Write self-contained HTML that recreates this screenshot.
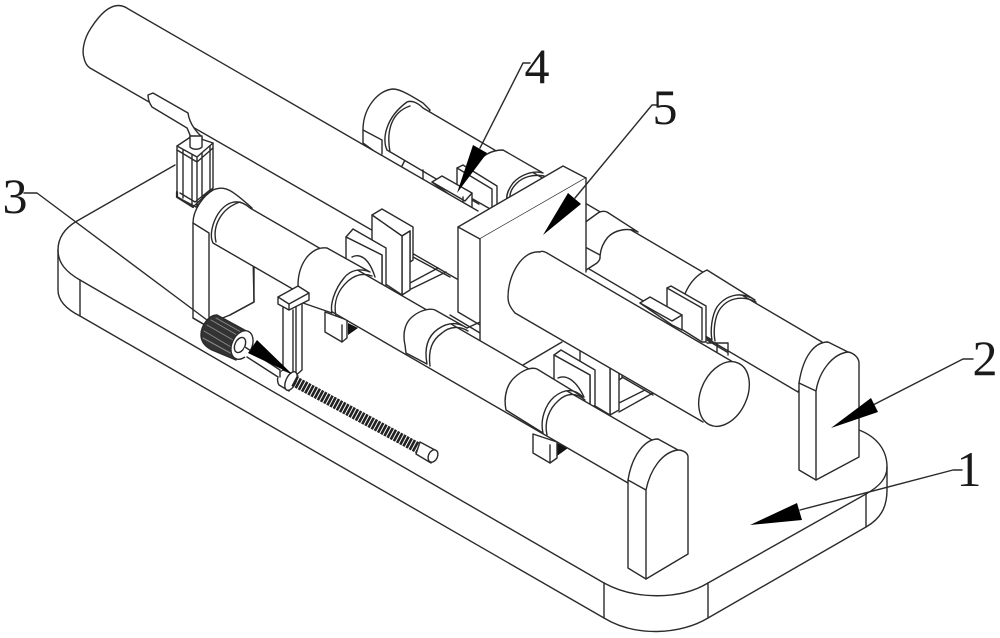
<!DOCTYPE html>
<html>
<head>
<meta charset="utf-8">
<style>
html,body{margin:0;padding:0;background:#fff;width:1000px;height:638px;overflow:hidden}
svg{display:block}
path,polygon,ellipse,polyline{stroke-linejoin:round;stroke-linecap:round}
.f{fill:#fff}
text{font-family:"Liberation Serif",serif;font-size:50px;fill:#1a1a1a;text-anchor:middle}
</style>
</head>
<body>
<svg width="1000" height="638" viewBox="0 0 1000 638" xmlns="http://www.w3.org/2000/svg" fill="none" stroke="#2a2a2a" stroke-width="1.4">
<!-- base -->
<path d="M175,165 L77,221 C65,228 58,238 58,250 C58,263 66,272 80,280 L604,583 C635,600 680,600 708,583 L866,494 C880,486 887,478 887,467 C887,450 877,437 859,430"/>
<path d="M58,250 L58,290 C58,300 66,309 80,316 L604,618 C635,637 680,635 708,618 L866,527 C880,519 887,508 887,490 L887,467"/>
<path d="M80,280 V316 M604,583 V618 M708,583 V618 M866,494 V527"/>

<!-- rear rail -->
<path class="f" d="M363,143 V130 C363,108 378,90 393,89 C400,89 410,95 423,103 L430,110 L400,170Z"/>
<path d="M363,130 L382,140 V154"/>
<path class="f" d="M423,108 L822,342 L798,392 L387,150 C382,140 385,118 407,102 C412,100 418,103 423,108Z"/>
<path d="M390,152 C386,130 392,112 410,106"/>
<!-- rear mid collar -->
<path class="f" stroke="none" d="M480,215 L477,165 C480,157 490,150 503,150 L543,173 C533,170 520,175 513,183 C508,190 506,195 507,215 Z"/>
<path d="M477,165 C480,157 490,150 503,150 L543,173 C533,170 520,175 513,183 C508,190 506,195 507,200"/>
<path d="M510,200 C509,192 513,187 517,183 C523,177 533,174 544,176"/>
<!-- rear right of plate collar -->
<path class="f" stroke="none" d="M580,270 L580,226 L598,213 C601,211 604,211 607,212 L638,232 C628,227 615,230 608,237 C603,243 600,250 600,258 L593,268 Z"/>
<path d="M580,226 L598,213 C601,211 604,211 607,212 L638,232 C628,227 615,230 608,237 C603,243 600,250 600,258"/>
<path d="M585,247 L600,255 M586,270 L597,263 C599,261 600,259 600,258"/>
<!-- rear far collar -->
<path class="f" d="M680,321 C680,305 685,280 707,270 L755,300 C740,290 725,296 717,307 C712,315 710,330 712,340 Z"/>
<path d="M715,341 C713,330 715,316 720,309 C728,298 742,295 756,302"/>
<path d="M707,340 L727,352 M707,343 H728 V355 M717,343 V352"/>
<!-- rear plates -->
<polygon class="f" points="457,168 463,165 497,186 497,210 492,210 457,190"/>
<path d="M457,168 L492,189 V208"/>
<polygon class="f" points="432,182 442,176 472,193 472,212 465,206"/>
<path d="M432,182 L465,201 L472,193 M463,197 V206 M423,170 V180 L432,186"/>
<polygon class="f" points="667,288 671,286 706,306 706,342 702,342 667,320"/>
<path d="M667,288 L702,308 V340"/>
<polygon class="f" points="640,303 650,297 682,315 682,330 672,325"/>
<path d="M640,303 L672,321 L682,315"/>

<!-- upper big cylinder -->
<path class="f" d="M125,7 C112,1 100,14 91,28 C83,40 82,52 84,58 C85,63 87,66 90,68 L457,279 L480,212Z" stroke="none"/>
<path d="M125,7 C112,1 100,14 91,28 C83,40 82,52 84,58 C85,63 87,66 90,68 L457,279"/>
<path d="M125,7 L478,211"/>

<!-- actuator and paddle -->
<path class="f" d="M148,95 L153,93 L188,113 C189,120 192,128 202,137 L202,148 L190,148 L190,135 C188,130 187,128 187,128 L152,107 C150,104 148,99 148,95Z"/>
<polygon class="f" points="177,146 192,136 213,143 213,188 196,207 177,197"/>
<path d="M177,146 L197,157 L213,143 M197,157 V207 M177,197 L193,207 L213,188 M183,150 V198 M192,155 V205 M202,153 V200 M210,146 V190 M177,150 L197,162 L213,148 M180,193 L195,202 L210,190"/>
<path class="f" d="M190,136 V147 C193,150 199,150 202,147 V136Z"/>
<path d="M177,192 V197 L193,207" stroke-width="2.2"/>

<!-- L base and uprights near collar 1 -->
<path d="M410,283 L438,268 M411,289 L446,272 M413,257 L450,277"/>
<polygon class="f" points="382,209 413,227 413,260 410,262 410,231 402,236 372,215"/>
<path d="M402,236 L410,231"/>
<polygon class="f" points="402,236 410,231 410,290 402,295"/>
<polygon class="f" points="372,215 402,236 402,295 372,275"/>
<polygon class="f" points="353,229 386,248 386,285 382,290 382,255 346,237"/>
<polygon class="f" points="346,237 382,255 382,290 346,270"/>
<path d="M352,257 C358,254 368,255 375,277"/>

<!-- L base and uprights near collar 3 -->
<path d="M619,403 L645,390 M619,412 L653,393 M622,377 L653,395"/>
<polygon class="f" points="590,330 622,348 622,378 619,380 619,350 610,355 580,337"/>
<polygon class="f" points="610,355 619,350 619,410 610,415"/>
<polygon class="f" points="580,337 610,355 610,415 580,397"/>
<polygon class="f" points="561,350 595,370 595,405 590,410 590,375 554,355"/>
<polygon class="f" points="554,355 590,375 590,410 554,390"/>
<path d="M558,378 C565,375 575,378 584,397"/>

<!-- plate -->
<polygon class="f" stroke="none" points="458,227 480,239 480,345 458,312"/>
<path d="M458,227 V312 M458,312 L480,325 M467,328 L480,322 M450,315 L480,333"/>
<polygon class="f" points="563,166 586,178 480,239 458,227"/>
<polygon class="f" points="480,239 586,178 586,272 523,365 480,390" stroke="none"/>
<path d="M586,178 V272 M480,239 V345 M523,365 L562,342"/>

<!-- big front cylinder -->
<path class="f" d="M540,252 C522,250 508,275 508,297 C508,303 510,307 515,313 L703,422 L733,362 L547,254Z" stroke="none"/>
<path d="M547,253 C543,251 541,251 540,252 C522,250 508,275 508,297 C508,303 510,307 515,313 L703,422 M547,253 L733,362"/>
<ellipse class="f" cx="724" cy="394" rx="23" ry="34" transform="rotate(25 724 394)"/>

<!-- feet and small black triangles -->
<polygon points="348,323 358,328 348,335" fill="#111" stroke="none"/>
<polygon class="f" points="325,312 325,332 342,342 347,338 347,320"/>
<path d="M342,342 V325"/>
<polygon points="557,443 568,448 557,456" fill="#111" stroke="none"/>
<polygon class="f" points="533,434 533,453 550,463 557,458 557,442"/>
<path d="M550,463 V445"/>

<!-- front-left bracket -->
<path class="f" d="M193,318 V223 C193,210 203,196 213,190 C225,185 232,190 252,208 L254,302 L230,315 L205,325Z"/>
<path d="M193,223 L209,233 V317 M193,318 L205,325"/>
<path d="M254,267 V302 L230,315"/>
<!-- front rail -->
<path class="f" d="M250,208 L652,440 L628,483 L213,243 C209,235 213,222 218,214 C226,202 238,197 250,208Z"/>
<path d="M216,242 C212,225 222,208 240,202"/>
<!-- collar 1 -->
<path class="f" d="M303,303 C295,290 297,270 307,257 C313,250 320,247 327,248 L370,272 C360,268 350,270 344,278 C334,290 330,305 332,313 Z"/>
<path d="M336,316 C333,302 338,290 348,281 C356,274 364,273 372,276"/>
<!-- collar 2 -->
<path class="f" d="M405,345 C402,332 406,322 412,317 C420,310 430,308 435,310 L467,328 C458,322 448,322 438,329 C428,336 424,348 427,364 L406,353Z"/>
<path d="M430,366 C428,350 432,340 442,333 C450,326 460,326 468,331"/>
<!-- collar 3 -->
<path class="f" d="M506,410 C503,395 508,383 515,377 C524,369 532,367 537,369 L583,397 C574,388 564,389 554,397 C545,405 540,420 543,433 Z"/>
<path d="M547,435 C544,422 549,409 558,401 C566,393 576,392 585,400"/>

<!-- front stand -->
<path class="f" d="M628,480 V568 L646,579 L688,554 V457 C688,453 683,450 678,450 L658,439 C645,439 632,455 628,480Z"/>
<path d="M628,480 L646,490 V579 M646,490 C650,470 662,452 678,450"/>
<!-- right stand -->
<path class="f" d="M799,383 V470 L816,480 L859,457 V363 C859,358 854,353 848,352 L828,342 C814,342 803,357 799,383Z"/>
<path d="M799,383 L816,391 V480 M816,391 C819,372 832,354 848,352"/>

<!-- post -->
<path class="f" d="M283,305 V373 L293,378 L302,370 V298 L296,305Z"/>
<path d="M293,310 V376 M296,307 V372"/>
<polygon class="f" points="278,297 298,286 309,293 309,300 289,310 278,304"/>
<path d="M278,297 L289,304 L309,293 M289,304 V310"/>

<!-- rod and screw -->
<path class="f" d="M283,370 C278,372 276,380 279,385 L289,391 L298,376 Z"/>
<ellipse class="f" cx="291" cy="381" rx="5" ry="10" transform="rotate(25 291 381)"/>
<line x1="294" y1="381" x2="420" y2="449" stroke="#222" stroke-width="11" stroke-dasharray="2.6 1" style="stroke-linecap:butt"/>
<path class="f" d="M420,442 L435,450 L431,463 L416,454Z"/>
<ellipse class="f" cx="433" cy="456" rx="4.5" ry="6.5" transform="rotate(25 433 456)"/>

<!-- knob -->
<path d="M201,335 C201,325 209,315 217,315 L250,333 L236,360 L212,350 C206,347 201,342 201,335Z" fill="#333"/>
<path d="M207,325 L240,344 M204,331 L236,350 M203,338 L234,355 M211,320 L244,339 M216,318 L248,336" stroke="#8a8a8a" stroke-width="1"/>
<ellipse class="f" cx="242" cy="345" rx="10" ry="15" transform="rotate(25 242 345)"/>
<ellipse class="f" cx="240" cy="345" rx="5" ry="8" transform="rotate(25 240 345)"/>
<path class="f" d="M245,346 L282,369 L278,378 L242,355Z" stroke="none"/>
<path d="M245,347 L280,370 M247,357 L278,377 M280,370 V377"/>

<!-- leaders -->
<path d="M24,193 H37 L207,320"/>
<path d="M530,63 H523 L480,148"/>
<path d="M657,105 H652 L575,198"/>
<path d="M973,359 H963 L873,405"/>
<path d="M962,470 H953 L800,510"/>
<!-- arrowheads -->
<polygon points="257,340 248,353 292,374" fill="#000" stroke="none"/>
<polygon points="473,145 487,153 457,193" fill="#000" stroke="none"/>
<polygon points="568,193 581,204 543,235" fill="#000" stroke="none"/>
<polygon points="871,398 878,412 831,428" fill="#000" stroke="none"/>
<polygon points="797,503 802,520 750,525" fill="#000" stroke="none"/>

<!-- labels -->
<g stroke="none">
<text x="969" y="486">1</text>
<text x="985" y="375">2</text>
<text x="15" y="213">3</text>
<text x="537" y="83">4</text>
<text x="665" y="124">5</text>
</g>
</svg>
</body>
</html>
